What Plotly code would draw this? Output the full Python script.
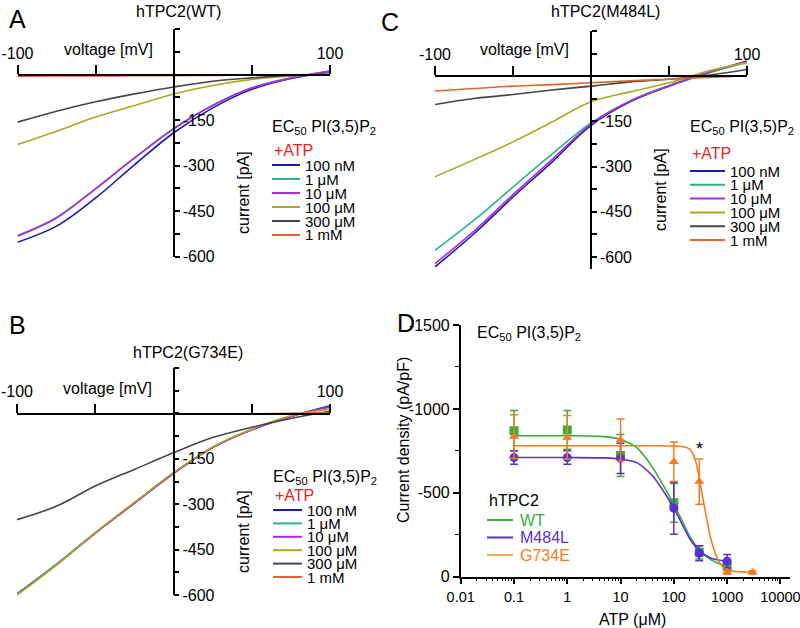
import plotly.graph_objects as go

W, H = 800, 628
def px(x): return x / W
def py(y): return 1 - y / H

FONT = "Liberation Sans, Arial, Helvetica, sans-serif"

# ---------------- I-V traces (voltage in mV, current in pA) ----------------
voltage = [-100, -75, -50, -25, 0, 25, 50, 75, 100]
atp_labels = ["100 nM", "1 μM", "10 μM", "100 μM", "300 μM", "1 mM"]
atp_colors = ["#1c1ca8", "#2db38c", "#b02ad8", "#a9a923", "#464646", "#e2652c"]

# panel A: hTPC2(WT)
wt_100nM = [-553, -500, -407, -297, -192, -110, -49, -13, 8]
wt_1uM   = [-531, -471, -376, -274, -178, -101, -44, -11, 11]
wt_10uM  = [-533, -473, -377, -275, -179, -102, -44, -11, 11]
wt_100uM = [-231, -187, -140, -102, -64, -36, -16, -5, -1]
wt_300uM = [-157, -121, -90, -64, -41, -22, -11, -3, -1]
wt_1mM   = [-6, -5, -5, -4, -4, -3, -2, -1, 0]

# panel B: hTPC2(G734E)
g_100nM = [-597, -500, -395, -296, -198, -113, -54, -10, 25]
g_1uM   = [-596, -499, -395, -296, -197, -112, -53, -10, 22]
g_10uM  = [-598, -501, -396, -297, -199, -113, -54, -10, 21]
g_100uM = [-600, -502, -394, -294, -196, -111, -52, -8, 14]
g_300uM = [-351, -307, -240, -185, -130, -80, -46, -17, 7]
g_1mM   = [-3, -3, -2, -2, -2, -1, -1, 0, 2]

# panel C: hTPC2(M484L)
m_100nM = [-633, -523, -401, -285, -163, -85, -33, 11, 50]
m_1uM   = [-578, -478, -368, -259, -155, -82, -31, 11, 46]
m_10uM  = [-622, -514, -393, -277, -159, -83, -32, 12, 48]
m_100uM = [-334, -277, -218, -152, -85, -52, -22, 17, 45]
m_300uM = [-94, -74, -61, -46, -33, -19, -10, 3, 22]
m_1mM   = [-49, -41, -33, -28, -22, -15, -10, -4, 2]

# ---------------- panel D: dose response ----------------
atp_conc = [0.1, 1, 10, 100, 300, 1000]
atp_conc_g = [0.1, 1, 10, 100, 300, 1000, 3000]
wt_mean = [-870, -875, -722, -440, -145, -62]
wt_err = [120, 115, 125, 115, 40, 20]
m484l_mean = [-710, -710, -705, -408, -140, -92]
m484l_err = [40, 40, 90, 155, 45, 40]
g734e_mean = [-835, -830, -815, -685, -567, -26, -26]
g734e_err = [130, 130, 125, 118, 135, 10, 10]

fit_conc = [0.1, 1, 5, 10, 20, 40, 70, 100, 150, 200, 300, 500, 1000]
fit_wt = [-840, -840, -835, -818, -770, -650, -520, -430, -320, -240, -160, -100, -60]
fit_m484l = [-710, -710, -708, -700, -680, -600, -490, -410, -300, -225, -155, -110, -92]
fit_conc_g = [0.1, 1, 10, 100, 150, 200, 250, 300, 350, 400, 500, 700, 1000, 3000]
fit_g734e = [-780, -780, -780, -779, -775, -760, -700, -590, -470, -370, -220, -90, -40, -28]

d_names = ["WT", "M484L", "G734E"]
d_colors = ["#3aad3a", "#5a2fd8", "#f47c20"]
d_line_legend = ["#3aad3a", "#5a2fd8", "#f5ab45"]

fig = go.Figure()

panels = [
    ("x", "y", [wt_100nM, wt_1uM, wt_10uM, wt_100uM, wt_300uM, wt_1mM]),
    ("x2", "y2", [g_100nM, g_1uM, g_10uM, g_100uM, g_300uM, g_1mM]),
    ("x3", "y3", [m_100nM, m_1uM, m_10uM, m_100uM, m_300uM, m_1mM]),
]
for xa, ya, series in panels:
    for lab, col, vals in zip(atp_labels, atp_colors, series):
        fig.add_trace(go.Scatter(x=voltage, y=vals, mode="lines", name=lab,
                                 line=dict(color=col, width=1.6, shape="spline"),
                                 xaxis=xa, yaxis=ya, showlegend=False))

# panel D traces
fits = [(fit_conc, fit_wt), (fit_conc, fit_m484l), (fit_conc_g, fit_g734e)]
pts = [(atp_conc, wt_mean, wt_err, "square"), (atp_conc, m484l_mean, m484l_err, "circle"),
       (atp_conc_g, g734e_mean, g734e_err, "triangle-up")]
for name, col, (fx, fy), (dx, dy, de, sym) in zip(d_names, d_colors, fits, pts):
    fig.add_trace(go.Scatter(x=fx, y=fy, mode="lines", line=dict(color=col, width=1.6, shape="spline", smoothing=0.8),
                             xaxis="x4", yaxis="y4", showlegend=False))
    fig.add_trace(go.Scatter(x=dx, y=dy, mode="markers", name=name,
                             marker=dict(symbol=sym, size=9, color=col),
                             error_y=dict(type="data", array=de, color=col, thickness=1.5, width=4),
                             xaxis="x4", yaxis="y4", showlegend=False))

axis_common = dict(showline=True, linecolor="black", linewidth=1.5, ticks="outside",
                   tickcolor="black", tickwidth=1.5, showgrid=False, zeroline=False,
                   automargin=False,
                   tickfont=dict(family=FONT, size=16, color="black"))

def iv_axes(xdom_px, ytop_px, ybot_px, zero_y_px, yrange):
    xmid = (xdom_px[0] + xdom_px[1]) / 2
    xa = dict(axis_common, domain=[px(xdom_px[0]), px(xdom_px[1])], range=[-100, 100],
              anchor="free", position=py(zero_y_px), side="top", ticklen=9,
              tickvals=[-100, -50, 0, 50, 100], ticktext=["-100", "", "", "", "100"],
              ticklabeloverflow="allow")
    yt = list(range(-600, 151, 75))
    ya = dict(axis_common, domain=[py(ybot_px), py(ytop_px)], range=yrange,
              anchor="free", position=px(xmid), side="right", ticklen=5,
              tickvals=yt, ticktext=[str(v) if v in (-600, -450, -300, -150) else "" for v in yt])
    return xa, ya

xa, ya = iv_axes([17.5, 330], 29, 256.5, 75, [-600, 150])
xb, yb = iv_axes([17, 330], 368, 595, 413.5, [-600, 150])
xc, yc = iv_axes([435, 747], 31, 269, 76, [-640, 150])

minor_x = [m * 10 ** e for e in range(-2, 4) for m in range(2, 10)] + [20000]
xd = dict(axis_common, domain=[px(460.7), px(790)], type="log", range=[-2, 4.18], anchor="y4",
          ticklen=6, tickvals=[0.01, 0.1, 1, 10, 100, 1000, 10000],
          ticktext=["0.01", "0.1", "1", "10", "100", "1000", "10000"],
          tickfont=dict(family=FONT, size=14.5, color="black"),
          ticklabeloverflow="allow",
          minor=dict(tickvals=minor_x, ticks="outside", ticklen=3, tickcolor="black", tickwidth=1))
yd = dict(axis_common, domain=[py(576.7), py(325)], range=[0, -1500], anchor="x4",
          ticklen=6, tickvals=[0, -500, -1000, -1500], ticktext=["0", "-500", "-1000", "-1500"],
          minor=dict(dtick=250, ticks="outside", ticklen=4, tickcolor="black", tickwidth=1))

annotations = []
shapes = []

def txt(x, y, text, size=16, color="black", xanchor="center", angle=0):
    annotations.append(dict(x=px(x), y=py(y), xref="paper", yref="paper", text=text, showarrow=False,
                            xanchor=xanchor, yanchor="middle", textangle=angle,
                            font=dict(family=FONT, size=size, color=color)))

# panel letters
txt(17, 19, "A", 25); txt(390, 22, "C", 25); txt(17, 325, "B", 25); txt(406, 323, "D", 25)
# titles
txt(178, 12, "hTPC2(WT)"); txt(605, 12, "hTPC2(M484L)"); txt(188, 352, "hTPC2(G734E)")
# axis labels
txt(108, 49, "voltage [mV]"); txt(524, 50, "voltage [mV]"); txt(107, 388, "voltage [mV]")
txt(243, 193, "current [pA]", angle=-90); txt(660, 190, "current [pA]", angle=-90)
txt(243, 532, "current [pA]", angle=-90)
txt(632, 619, "ATP (μM)"); txt(403, 440, "Current density (pA/pF)", angle=-90)

ec50 = "EC<sub>50</sub> PI(3,5)P<sub>2</sub>"

def iv_legend(x0, y_title, y_atp, y_first, step, line_len):
    txt(x0 - 2, y_title, ec50, xanchor="left")
    txt(x0, y_atp, "+ATP", color="#e8231f", xanchor="left")
    for i, (lab, col) in enumerate(zip(atp_labels, atp_colors)):
        y = y_first + i * step
        shapes.append(dict(type="line", xref="paper", yref="paper", x0=px(x0), x1=px(x0 + line_len),
                           y0=py(y), y1=py(y), line=dict(color=col, width=2)))
        txt(x0 + line_len + 3, y, lab, size=15, xanchor="left")

iv_legend(272, 127, 150, 165, 14, 28)
iv_legend(273, 477, 495, 510, 13.4, 29)
iv_legend(690, 127, 153, 171, 13.8, 35)

# panel D legend & labels
txt(475, 333, ec50, xanchor="left")
txt(487, 500, "hTPC2", xanchor="left")
for i, (nm, col, lc) in enumerate(zip(d_names, d_colors, d_line_legend)):
    y = 520 + i * 17.5
    shapes.append(dict(type="line", xref="paper", yref="paper", x0=px(487), x1=px(513),
                       y0=py(y), y1=py(y), line=dict(color=lc, width=2)))
    txt(518, y, nm, color=col, xanchor="left")
txt(699, 449, "*", size=18)

fig.update_layout(
    width=W, height=H, margin=dict(l=0, r=0, t=0, b=0, pad=0, autoexpand=False),
    paper_bgcolor="white", plot_bgcolor="rgba(0,0,0,0)",
    font=dict(family=FONT, size=16, color="black"),
    xaxis=xa, yaxis=ya, xaxis2=xb, yaxis2=yb, xaxis3=xc, yaxis3=yc, xaxis4=xd, yaxis4=yd,
    annotations=annotations, shapes=shapes, showlegend=False,
)

# remove the browser's default page margin so the 800x628 figure fills the window exactly
fig.write_html("out.html", config={"displayModeBar": False},
               post_script="document.body.style.margin='0';document.body.style.overflow='hidden';")
